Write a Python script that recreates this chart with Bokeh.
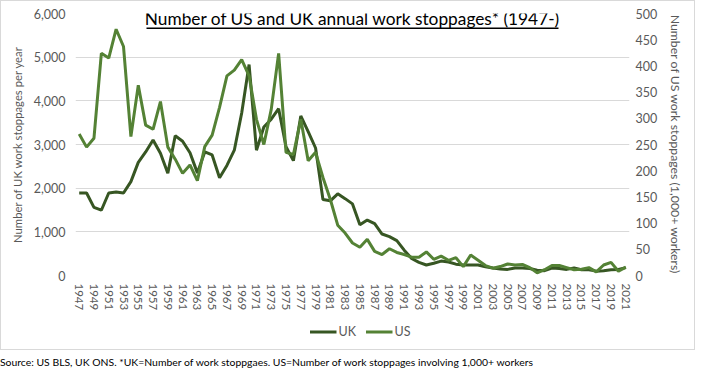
from bokeh.plotting import figure
from bokeh.models import (Range1d, LinearAxis, FixedTicker, NumeralTickFormatter,
                          Legend, LegendItem, Label, BoxAnnotation, ColumnDataSource, Div)
from bokeh.layouts import column
from bokeh.embed import file_html
from bokeh.resources import INLINE

years = list(range(1947, 2022))
uk = [1890, 1890, 1560, 1495, 1890, 1910, 1890, 2150, 2590, 2830,
      3105, 2800, 2340, 3200, 3075, 2810, 2350, 2830, 2760, 2240,
      2520, 2870, 3720, 4830, 2870, 3400, 3580, 3820, 2950, 2630,
      3655, 3295, 2920, 1740, 1710, 1870, 1760, 1640, 1160, 1270,
      1190, 950, 890, 800, 580, 390, 300, 240, 280, 330,
      310, 260, 240, 240, 240, 200, 170, 150, 140, 170,
      170, 160, 120, 110, 170, 160, 140, 170, 130, 130,
      100, 110, 130, 140, 180]
us = [270, 245, 262, 424, 415, 470, 437, 265, 363, 287,
      279, 332, 245, 222, 195, 211, 181, 246, 268, 321,
      381, 392, 412, 381, 298, 250, 317, 424, 235, 231,
      298, 219, 235, 187, 145, 96, 81, 62, 54, 69,
      46, 40, 51, 44, 40, 35, 35, 45, 31, 37,
      29, 34, 17, 39, 29, 19, 14, 17, 22, 20,
      21, 15, 5, 11, 19, 19, 15, 11, 12, 15,
      7, 20, 25, 8, 16]
x_ticks = list(range(1947, 2022, 2))
left_ticks = list(range(0, 6001, 1000))
right_ticks = list(range(0, 501, 50))
series_names = ["UK", "US"]

title_text = "Number of US and UK annual work stoppages* (1947-)"
left_title = "Number of UK work stoppages per year"
right_title = "Number of US work stoppages (1,000+ workers)"
footer = "Source: US BLS, UK ONS. *UK=Number of work stoppgaes. US=Number of work stoppages involving 1,000+ workers"

FONT = "Lato"
TICK_COLOR = "#595959"
UK_COLOR = "#375623"
US_COLOR = "#548235"
W, H = 693, 312
L, R, T, B = 74, 65, 12, 36
FW, FH = W - L - R, H - T - B

src = ColumnDataSource(dict(year=years, uk=uk, us=us))

p = figure(width=W, height=H, output_backend="svg", toolbar_location=None,
           x_range=Range1d(1946.5, 2021.5), y_range=Range1d(0, 6000),
           min_border_left=L, min_border_right=R, min_border_top=T, min_border_bottom=B,
           outline_line_color=None, background_fill_color="white", border_fill_color="white")
p.extra_y_ranges = {"us": Range1d(0, 500)}

p.xgrid.grid_line_color = None
p.ygrid.grid_line_color = "#d9d9d9"
p.ygrid.grid_line_width = 1
p.ygrid.ticker = FixedTicker(ticks=left_ticks)

# x axis
xa = p.xaxis[0]
xa.ticker = FixedTicker(ticks=x_ticks)
xa.formatter = NumeralTickFormatter(format="0")
xa.major_label_orientation = "vertical"
xa.axis_line_color = None
xa.major_tick_line_color = None
xa.minor_tick_line_color = None
xa.major_tick_out = 0
xa.major_tick_in = 0
xa.major_label_standoff = 8
xa.major_label_text_font = FONT
xa.major_label_text_font_size = "11.5px"
xa.major_label_text_color = TICK_COLOR

# left axis
ya = p.yaxis[0]
ya.ticker = FixedTicker(ticks=left_ticks)
ya.formatter = NumeralTickFormatter(format="0,0")
ya.axis_line_color = None
ya.major_tick_line_color = None
ya.minor_tick_line_color = None
ya.major_tick_out = 0
ya.major_tick_in = 0
ya.major_label_standoff = 10
ya.major_label_text_font = FONT
ya.major_label_text_font_size = "12.5px"
ya.major_label_text_color = TICK_COLOR
ya.axis_label = left_title
ya.axis_label_text_font = FONT
ya.axis_label_text_font_size = "11.3px"
ya.axis_label_text_font_style = "normal"
ya.axis_label_text_color = TICK_COLOR
ya.axis_label_standoff = 7

# right axis
ra = LinearAxis(y_range_name="us", ticker=FixedTicker(ticks=right_ticks))
ra.axis_line_color = None
ra.major_tick_line_color = None
ra.minor_tick_line_color = None
ra.major_tick_out = 0
ra.major_tick_in = 0
ra.major_label_standoff = 6
ra.major_label_text_font = FONT
ra.major_label_text_font_size = "12.5px"
ra.major_label_text_color = TICK_COLOR
ra.axis_label = right_title
ra.axis_label_text_font = FONT
ra.axis_label_text_font_size = "12.3px"
ra.axis_label_text_font_style = "normal"
ra.axis_label_text_color = TICK_COLOR
ra.axis_label_standoff = 8
p.add_layout(ra, "right")

p.line("year", "uk", source=src, line_color=UK_COLOR, line_width=3)
p.line("year", "us", source=src, y_range_name="us", line_color=US_COLOR, line_width=3)

# title inside top of frame
title_cx = FW * 0.5
p.add_layout(Label(x=title_cx, y=FH - 7, x_units="screen", y_units="screen",
                   text=title_text, text_align="center", text_baseline="alphabetic",
                   text_font=FONT, text_font_size="17.3px", text_color="#000000"))
half_w = 206
p.add_layout(BoxAnnotation(left=title_cx - half_w, right=title_cx + half_w,
                           bottom=FH - 17.5, top=FH - 16,
                           left_units="screen", right_units="screen",
                           bottom_units="screen", top_units="screen",
                           fill_color="#000000", fill_alpha=1, line_color=None))

# legend strip: an axis-less figure whose view lies away from the data,
# so its two line renderers only feed the legend swatches
LH = 36
LSHIFT = 20
lg = figure(width=W - LSHIFT, height=LH, output_backend="svg", toolbar_location=None,
            x_range=Range1d(0, 1), y_range=Range1d(-2, -1),
            x_axis_location=None, y_axis_location=None, min_border=0,
            margin=(0, 0, 0, LSHIFT),
            outline_line_color=None, background_fill_color="white", border_fill_color="white")
lg.extra_y_ranges = {"us": Range1d(-2, -1)}
lg.xgrid.grid_line_color = None
lg.ygrid.grid_line_color = None
proxy_uk = lg.line("year", "uk", source=src, line_color=UK_COLOR, line_width=3)
proxy_us = lg.line("year", "us", source=src, y_range_name="us", line_color=US_COLOR, line_width=3)
legend = Legend(items=[LegendItem(label=series_names[0], renderers=[proxy_uk]),
                       LegendItem(label=series_names[1], renderers=[proxy_us])],
                orientation="horizontal", location="center",
                border_line_color=None, background_fill_alpha=0,
                label_text_font=FONT, label_text_font_size="12.5px", label_text_color=TICK_COLOR,
                glyph_width=27, glyph_height=14, label_standoff=2, spacing=7,
                padding=4, margin=0)
lg.add_layout(legend, "center")

inner = column(p, lg, spacing=0, styles={"background-color": "white"})
chart = column(inner, spacing=0,
               styles={"padding": "1px", "background-color": "#d9d9d9"})

foot = Div(text=footer, margin=(5, 0, 0, 0),
           styles={"font-family": FONT, "font-size": "10.4px", "color": "#000000",
                   "white-space": "nowrap"})

layout = column(chart, foot, spacing=0)
open("out.html", "w").write(file_html(layout, INLINE))
